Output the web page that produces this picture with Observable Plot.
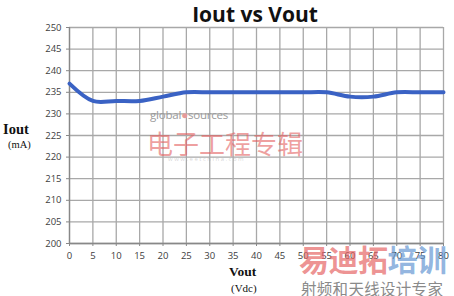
<!DOCTYPE html>
<html>
<head>
<meta charset="utf-8">
<script src="https://cdn.jsdelivr.net/npm/d3@7"></script>
<script src="https://cdn.jsdelivr.net/npm/@observablehq/plot@0.6"></script>
<style>
  html, body { margin: 0; padding: 0; background: #fff; }
  #wrap { position: relative; width: 454px; height: 296px; overflow: hidden; }
  .t { position: absolute; white-space: nowrap; line-height: 1; }
</style>
</head>
<body>
<div id="wrap">
  <div id="chart"></div>
  <div class="t" style="left:0;width:510px;top:0px;text-align:center;font:bold 21px 'Open Sans';color:#111;">Iout vs Vout</div>
  <div class="t" style="left:3px;top:121px;font:bold 14.5px 'Liberation Serif';color:#111;">Iout</div>
  <div class="t" style="left:8px;top:139px;font:10.5px 'Liberation Serif';color:#111;">(mA)</div>
  <div class="t" style="left:229px;top:264px;font:bold 13.5px 'Liberation Serif';color:#111;">Vout</div>
  <div class="t" style="left:231px;top:282px;font:11px 'Liberation Serif';color:#111;">(Vdc)</div>
  <div class="t" style="left:150px;top:107px;font:11.5px 'Open Sans';color:#9a9a9a;letter-spacing:-0.2px;">global<span style="color:#e59a9a">●</span>sources</div>
  <div class="t" style="left:147px;top:124px;font:26px 'Noto Sans CJK SC';color:rgba(228,95,95,0.6);">电子工程专辑</div>
  <div class="t" style="left:168px;top:155px;font:6px 'Open Sans';color:rgba(150,150,150,0.4);letter-spacing:1.5px;">www.eetchina.com</div>
  <div class="t" style="left:299px;top:236px;font:bold 30px 'Noto Sans CJK SC';letter-spacing:-0.5px;"><span style="color:rgba(230,100,100,0.7)">易迪拓</span><span style="color:rgba(100,150,210,0.7)">培训</span></div>
  <div class="t" style="left:301px;top:277px;font:15.5px 'Noto Sans CJK SC';color:#8a8a8a;letter-spacing:0.3px;">射频和天线设计专家</div>
</div>
<script>
const vout = [0, 5, 10, 15, 20, 25, 30, 35, 40, 45, 50, 55, 60, 65, 70, 75, 80];
const iout = [237, 233, 233, 233, 234, 235, 235, 235, 235, 235, 235, 235, 234, 234, 235, 235, 235];
const xTicks = [0, 5, 10, 15, 20, 25, 30, 35, 40, 45, 50, 55, 60, 65, 70, 75, 80];
const yTicks = [200, 205, 210, 215, 220, 225, 230, 235, 240, 245, 250];

const data = vout.map((v, i) => ({vout: v, iout: iout[i]}));

const chart = Plot.plot({
  width: 454,
  height: 296,
  marginTop: 27,
  marginBottom: 53,
  marginLeft: 69,
  marginRight: 11,
  style: {fontFamily: "Open Sans", fontSize: "9.5px", color: "#404040", background: "transparent"},
  x: {domain: [0, 80]},
  y: {domain: [200, 250]},
  marks: [
    Plot.gridX(xTicks, {stroke: "#a8a8a8", strokeOpacity: 1, strokeWidth: 1.3}),
    Plot.gridY(yTicks, {stroke: "#a8a8a8", strokeOpacity: 1, strokeWidth: 1.3}),
    Plot.axisY(yTicks, {tickSize: 3, tickPadding: 5, label: null, stroke: "#888", tickFormat: d => d}),
    Plot.axisX(xTicks, {tickSize: 3, tickPadding: 6, label: null, stroke: "#888", tickFormat: d => d}),
    Plot.ruleX([0], {stroke: "#888", strokeWidth: 1.3}),
    Plot.ruleY([200], {stroke: "#888", strokeWidth: 1.3}),
    Plot.line(data, {x: "vout", y: "iout", curve: "catmull-rom", stroke: "#3a62c4", strokeWidth: 4})
  ]
});
document.getElementById("chart").appendChild(chart);
</script>
</body>
</html>
